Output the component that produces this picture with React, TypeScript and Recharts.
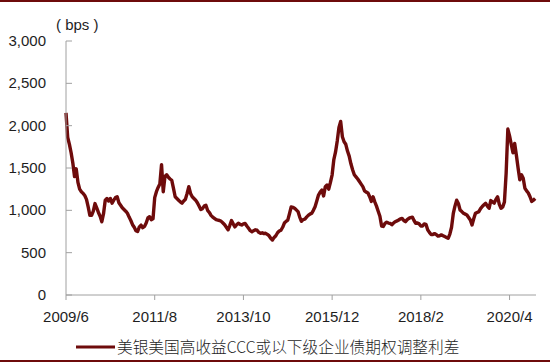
import React from 'react';
import { LineChart, Line, XAxis, YAxis } from 'recharts';

// semi-monthly readings, 2009/6 .. 2020/11 (bps)
const spread = [
  2150, 1860, 1780, 1680, 1560, 1400, 1490, 1330, 1250, 1220,
  1200, 1175, 1130, 1040, 940, 940, 990, 1080, 1030, 975,
  930, 865, 960, 1120, 1140, 1110, 1140, 1085, 1120, 1150,
  1160, 1090, 1060, 1030, 1010, 990, 965, 920, 880, 830,
  800, 760, 750, 805, 825, 795, 810, 850, 910, 925,
  890, 900, 1150, 1220, 1270, 1310, 1540, 1220, 1400, 1420,
  1390, 1370, 1355, 1260, 1160, 1140, 1120, 1100, 1085, 1110,
  1130, 1200, 1280, 1200, 1160, 1140, 1120, 1090, 1050, 1010,
  1020, 1050, 1060, 1000, 975, 940, 920, 905, 890, 885,
  880, 870, 850, 830, 800, 770, 820, 880, 840, 805,
  830, 847, 835, 827, 840, 845, 815, 788, 760, 748,
  760, 770, 765, 740, 729, 735, 725, 729, 715, 700,
  670, 650, 680, 700, 735, 755, 765, 800, 850, 870,
  885, 960, 1040, 1035, 1025, 1005, 985, 920, 870, 890,
  895, 920, 940, 955, 965, 1000, 1043, 1110, 1180, 1215,
  1240, 1170, 1280, 1300, 1250, 1330, 1420, 1600, 1690, 1820,
  1980, 2050, 1870, 1810, 1780, 1700, 1640, 1550, 1480, 1420,
  1395, 1370, 1340, 1310, 1280, 1230, 1215, 1205, 1160, 1105,
  1160, 1100, 1050, 990, 930, 815, 810, 845, 860, 850,
  845, 830, 850, 866, 875, 886, 900, 905, 880, 866,
  890, 905, 915, 920, 880, 847, 850, 840, 815, 815,
  840, 835, 770, 740, 715, 715, 725, 715, 695, 700,
  710, 700, 690, 680, 670, 720, 800, 960, 1050, 1120,
  1080, 1004, 985, 965, 955, 945, 915, 886, 827, 900,
  965, 975, 985, 1020, 1045, 1065, 1083, 1050, 1024, 1115,
  1100, 1085, 1130, 1160, 1070, 1024, 1040, 1100, 1440, 1960,
  1880, 1780, 1680, 1790, 1650, 1500, 1360, 1420, 1380, 1260,
  1230, 1205, 1160, 1105, 1120, 1140,
];

const tickIdx = [0, 52, 104, 156, 208, 260];
const tickLabels = ['2009/6', '2011/8', '2013/10', '2015/12', '2018/2', '2020/4'];
const yTicks = [0, 500, 1000, 1500, 2000, 2500, 3000];

const seriesName = '美银美国高收益CCC或以下级企业债期权调整利差';

const LINE = '#6E0B0B';
const AXIS = '#A0A0A0';
const TEXT = '#1E1E1E';
const FONT = '"Liberation Sans", Arial, sans-serif';
const AXIS_X = 66;

const data = spread.map((v, i) => ({ i, v }));

const YTick = (props: any) => {
  const { y, payload } = props;
  return (
    <g>
      <line x1={AXIS_X} x2={AXIS_X + 6} y1={y} y2={y} stroke={AXIS} />
      <text
        x={46}
        y={y}
        dy={5}
        textAnchor="end"
        fill={TEXT}
        fontSize={15}
        fontFamily={FONT}
      >
        {payload.value.toLocaleString('en-US')}
      </text>
    </g>
  );
};

export default function App() {
  return (
    <div
      style={{
        position: 'absolute',
        left: 0,
        top: 0,
        width: 550,
        height: 364,
        background: '#fff',
        overflow: 'hidden',
      }}
    >
      <div style={{ position: 'absolute', left: 0, top: 0, width: 550, height: 2, background: '#6E0B0B' }} />
      <div
        style={{
          position: 'absolute',
          left: 56,
          top: 16,
          fontSize: 15,
          lineHeight: '17px',
          fontFamily: FONT,
          color: TEXT,
          whiteSpace: 'pre',
        }}
      >
        ( bps )
      </div>
      <LineChart
        width={550}
        height={364}
        data={data}
        margin={{ top: 41, right: 14, bottom: 39, left: 5 }}
      >
        <XAxis
          type="number"
          dataKey="i"
          domain={[0, 275.5]}
          ticks={tickIdx}
          tickFormatter={(v: number) => tickLabels[tickIdx.indexOf(v)] ?? ''}
          interval={0}
          height={30}
          stroke={AXIS}
          tickSize={5}
          tickMargin={11}
          tick={{ fill: TEXT, fontSize: 15, fontFamily: FONT }}
        />
        <YAxis
          type="number"
          domain={[0, 3000]}
          ticks={yTicks}
          width={61}
          stroke={AXIS}
          tickLine={false}
          tick={<YTick />}
        />
        <Line
          type="linear"
          dataKey="v"
          stroke={LINE}
          strokeWidth={3.4}
          strokeLinejoin="round"
          dot={false}
          isAnimationActive={false}
        />
      </LineChart>
      <svg style={{ position: 'absolute', left: 74, top: 340 }} width={44} height={14}>
        <line x1={2} x2={41} y1={7} y2={7} stroke={LINE} strokeWidth={3} />
      </svg>
      <div
        style={{
          position: 'absolute',
          left: 117,
          top: 337,
          fontSize: 15.7,
          lineHeight: '20px',
          fontFamily: '"Noto Sans CJK SC", sans-serif',
          fontWeight: 300,
          color: TEXT,
          whiteSpace: 'nowrap',
        }}
      >
        {seriesName}
      </div>
      <div style={{ position: 'absolute', left: 0, top: 360, width: 550, height: 2, background: '#6E0B0B' }} />
    </div>
  );
}
